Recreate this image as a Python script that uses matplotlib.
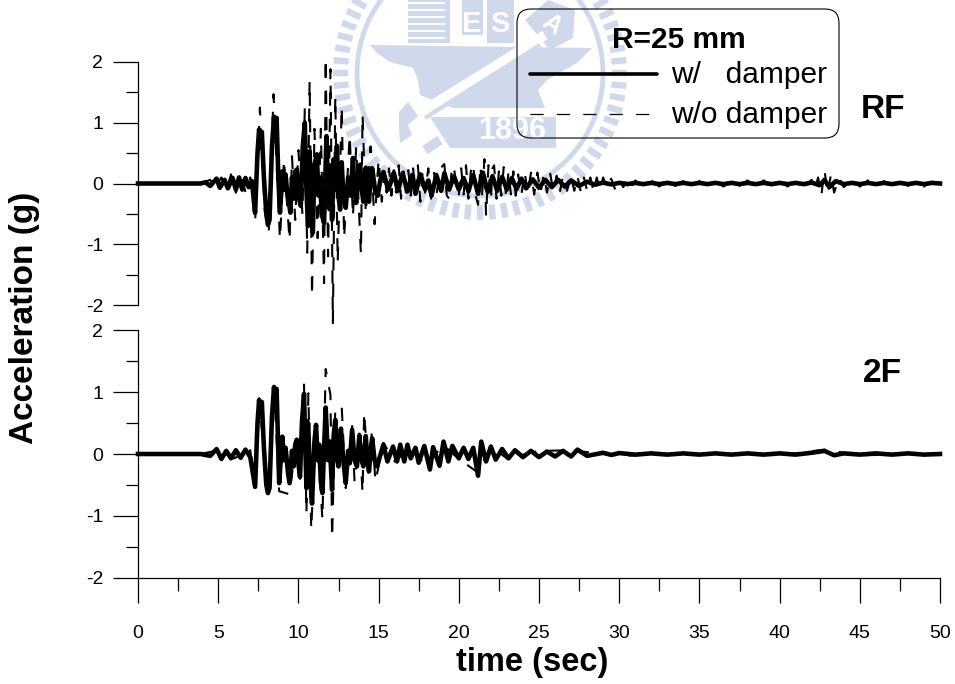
import numpy as np
import matplotlib
matplotlib.use("Agg")
import matplotlib.pyplot as plt
from matplotlib.patches import Polygon, Rectangle, Circle, FancyBboxPatch

# values: turning points of each record (sec, g)
rf_solid_t = [0, 3.9, 4.2, 4.5, 4.9, 5.1, 5.4, 5.6, 5.9, 6.1, 6.3, 6.5, 6.7, 6.9, 7.1, 7.3, 7.45, 7.55, 7.65, 7.72, 7.85, 8.0, 8.1, 8.2, 8.35, 8.48, 8.58, 8.64, 8.75, 8.85, 9.0,
              9.1, 9.2, 9.3, 9.4, 9.5, 9.6, 9.7, 9.8, 9.9, 10.0, 10.15, 10.27, 10.4, 10.5, 10.6, 10.7, 10.8, 10.9, 11.0, 11.15, 11.25, 11.35, 11.45, 11.6, 11.75, 11.85, 11.95,
              12.1, 12.2, 12.3, 12.4, 12.5, 12.6, 12.7, 12.8, 12.95, 13.1, 13.25, 13.4, 13.5, 13.6, 13.75, 13.85, 13.95, 14.05, 14.2, 14.3, 14.4, 14.5, 14.6, 14.8, 14.95, 15.1, 15.3,
              15.6, 15.8, 15.95, 16.2, 16.5, 16.8, 17.1, 17.3, 17.6, 17.9, 18.1, 18.3, 18.6, 18.9, 19.1, 19.4, 19.7, 20.0, 20.3, 20.6, 20.9, 21.2, 21.5, 21.8, 22.1, 22.4,
              22.7, 23.0, 23.3, 23.6, 23.9, 24.2, 24.6, 25.0, 25.4, 25.8, 26.2, 26.6, 27.0, 27.5, 28.0, 28.5, 29.0, 29.5, 30.0, 30.5, 31.0, 31.5, 32.0, 32.5, 33.0, 33.5, 34.0, 34.5, 35.0, 35.5, 36.0,
              36.5, 37.0, 37.5, 38.0, 38.5, 39.0, 39.5, 40.0, 40.5, 41.0, 41.5, 42.0, 42.5, 42.8, 43.1, 43.5, 44.0, 44.5, 45.0, 45.5, 46.0, 46.5, 47.0, 47.5, 48.0, 48.5, 49.0, 49.5, 50.0]
rf_solid_a = [0, 0, .02, -.04, .08, -.07, .06, -.08, .09, -.1, .1, -.1, .09, -.06, .04, -.48, .5, .89, .6, .85, .1, -.5, -.68, -.6, .6, 1.1, .7, 1.08, .1, -.48, .2,
              -.1, .15, -.15, -.3, -.48, .1, -.25, .2, .23, -.2, -.37, .6, 1.0, -.1, -.7, .53, -.4, -.81, .3, .48, -.2, .1, -.5, -.65, .78, -.2, .3,
              -.6, .4, -.1, .62, -.2, -.43, .35, -.2, -.4, .1, -.2, .42, -.1, -.32, .2, .31, -.1, -.3, .26, -.1, -.3, .1, .25, -.15, -.2, .05, .19,
              -.1, .05, .18, -.12, .17, -.13, .14, -.17, .15, -.1, .05, -.2, .14, -.12, .17, -.1, .12, -.1, .09, -.13, .14, -.17, .18, -.14, .12, -.12,
              .11, -.1, .09, -.09, .08, -.08, .07, -.07, .06, -.06, .06, -.05, .05, -.04, .03, -.02, .015, -.015, .01, -.01, .01, -.01, .01, -.01, .01, -.01, .01, -.01, .01, -.01, .01,
              -.01, .01, -.01, .01, -.01, .01, -.01, .01, -.01, .01, -.01, .015, -.03, .06, -.06, .04, -.01, .01, -.01, .01, -.01, .01, -.01, .01, -.01, .01, -.01, .01, 0]

rf_dash_t = [3.9, 4.5, 4.8, 5.2, 5.5, 5.8, 6.1, 6.4, 6.7, 7.0, 7.3, 7.6, 7.9, 8.15, 8.45, 8.85, 9.1, 9.45, 9.6, 9.8, 10.0, 10.25, 10.4, 10.55, 10.7, 10.85, 11.0, 11.2,
             11.4, 11.6, 11.7, 11.85, 12.0, 12.15, 12.3, 12.45, 12.7, 12.85, 13.2, 13.4, 13.6, 13.9, 14.0, 14.2, 14.5, 14.75, 15.0, 15.2,
             15.35, 15.5, 15.65, 15.8, 15.95, 16.1, 16.25, 16.4, 16.55, 16.7, 16.85, 17.0, 17.15, 17.3, 17.45, 17.6, 17.75, 17.9, 18.1, 18.3, 18.45, 18.6, 18.85, 19.1, 19.25, 19.4, 19.55, 19.7, 19.85, 20.0, 20.15, 20.3, 20.45, 20.6, 20.75, 20.9, 21.05, 21.2, 21.35, 21.45, 21.6, 21.7, 21.85, 22.0, 22.1, 22.2,
             22.35, 22.5, 22.65, 22.8, 22.95, 23.1, 23.25, 23.4, 23.55, 23.7, 23.9, 24.1, 24.3, 24.5, 24.7, 24.9, 25.1, 25.3, 25.5, 25.7, 25.9, 26.1, 26.3, 26.5, 26.75, 27.0, 27.2, 27.4, 27.6, 27.8, 28.0, 28.2, 28.4, 28.6, 28.8, 29.0, 29.25, 29.5, 29.75, 30.0, 30.25, 30.5, 30.75, 31.0, 31.5, 32.0, 32.5, 33.0,
             33.5, 34.0, 34.5, 35.0, 35.5, 36.0, 36.5, 37.0, 37.5, 38.0, 38.5, 39.0, 39.5, 40.0, 40.5, 41.0, 41.5, 42.0, 42.2, 42.4, 42.6, 42.8, 43.0, 43.2, 43.4, 43.7, 44.0, 44.5, 45.0, 45.5, 46.0, 46.5, 47.0, 47.5, 48.0, 48.5, 49.0, 49.5, 50.0]
rf_dash_a = [0, .06, -.08, .1, -.12, .15, -.15, .14, -.14, .1, -.65, 1.25, -.45, -.8, 1.47, -.92, .4, -.94, .45, -.6, .55, -.5, 1.25, -1.14, 1.69, -1.86, .9, -.9,
             .9, -1.64, 2.07, -1.2, 1.88, -2.3, 1.44, -1.3, 1.27, -.9, .8, -.55, .6, -1.17, 1.14, -.5, .61, -.67, .4, -.3,
             .2, -.15, .25, -.2, .22, -.15, .3, -.25, .2, -.15, .22, -.2, .25, -.15, .3, -.3, .2, -.15, .25, -.35, .2, -.2, .25, .32, -.2, -.25, .2, .3, -.15, -.2, .25, -.18, .3, -.25, .2, .33, -.2, -.35, .3, -.2, .4, -.54, .3, -.28, .25, .3,
             -.25, .2, -.2, .27, -.22, .2, -.18, .2, -.2, .15, -.2, .2, -.16, .18, -.18, .18, -.15, .15, -.15, .16, -.14, .13, -.14, .13, -.12, .12, -.12, .12, -.13, .1, -.12, .1, -.13, .1, -.12, .1, -.08, .08, -.1, .07, -.06, .06, -.07, .05, -.05, .05, -.05, .05,
             -.04, .04, -.05, .04, -.04, .04, -.05, .04, -.04, .05, -.04, .05, -.03, .04, -.05, .05, -.05, .06, -.1, .1, -.2, .22, -.18, .15, -.15, .1, -.06, .05, -.05, .05, -.05, .04, -.04, .05, -.04, .04, -.05, .03, 0]

f2_solid_t = [0, 3.9, 4.5, 4.9, 5.2, 5.5, 5.8, 6.1, 6.4, 6.7, 7.0, 7.3, 7.45, 7.55, 7.65, 7.72, 7.85, 8.0, 8.1, 8.2, 8.35, 8.48, 8.58, 8.64, 8.8,
              9.0, 9.1, 9.2, 9.35, 9.45, 9.6, 9.7, 9.8, 9.9, 10.0, 10.1, 10.22, 10.35, 10.5, 10.6, 10.72, 10.85, 11.0, 11.1, 11.2, 11.3, 11.4, 11.5, 11.6, 11.7, 11.85, 11.95,
              12.1, 12.2, 12.3, 12.4, 12.5, 12.65, 12.8, 12.95, 13.1, 13.2, 13.35, 13.5, 13.65, 13.8, 13.9, 14.05, 14.2, 14.3, 14.4, 14.5, 14.6, 14.75, 14.9,
              15.3, 15.55, 15.9, 16.15, 16.35, 16.6, 16.8, 17.0, 17.3, 17.5,
              17.85, 18.2, 18.4, 18.8, 19.05, 19.35, 19.6, 20.0, 20.3, 20.6, 20.9, 21.2, 21.4, 21.7, 22.0, 22.3, 22.7, 23.1, 23.5, 24.0, 24.5, 25.0, 25.5, 26.0,
              26.5, 27.0, 27.4, 28.0, 29.0, 29.5, 30.0, 31.0, 32.0, 33.0, 34.0, 35.0, 36.0, 37.0, 38.0, 39.0, 40.0, 41.0, 42.0, 42.8, 43.4, 44.0, 45.0, 46.0, 47.0, 48.0, 49.0, 50.0]
f2_solid_a = [0, 0, -.03, .08, -.08, .05, -.07, .06, -.06, .07, -.05, -.53, .5, .87, .6, .84, .1, -.5, -.63, -.55, .6, 1.08, .7, 1.05, -.47,
              .28, -.1, .1, -.3, -.47, .05, -.2, .15, .23, -.15, -.37, .5, .97, -.55, .5, -.3, -.8, .2, .47, -.1, .15, -.45, -.63, .1, .75, -.1, .2,
              -.58, .3, .55, -.05, -.2, .41, -.1, -.47, .05, -.15, .39, -.1, -.2, .3, -.05, -.2, .29, -.1, -.28, .05, .25, -.1, -.2,
              .15, -.12, .12, -.12, .15, -.12, .15, -.07, .1, -.14,
              .13, -.25, .11, -.19, .2, -.12, .13, -.07, .1, -.08, .1, -.35, .2, -.12, .12, -.09, .08, -.07, .06, -.05, .05, -.05, .04, -.04,
              .05, -.04, .07, -.03, .02, -.015, .015, -.01, .01, -.01, .01, -.01, .01, -.01, .01, -.01, .01, -.01, .02, .05, -.02, .01, -.01, .01, -.01, .01, -.01, 0]

f2_dash_t = [3.9, 5.0, 6.0, 7.0, 7.3, 7.55, 8.1, 8.48, 8.8, 9.45, 9.9, 10.1, 10.35, 10.5, 10.62, 10.8, 11.1, 11.5, 11.7, 12.0, 12.1, 12.3, 12.7, 12.95, 13.35, 13.5, 13.8, 14.0, 14.1, 14.35,
             14.6, 14.8, 15.3, 16.0, 17.0, 18.0, 19.0, 20.0, 21.2, 22.0, 23.0, 25.0, 27.0, 30.0, 35.0, 40.0, 42.8, 45.0, 50.0]
f2_dash_a = [0, .06, -.07, .06, -.6, .9, -.7, 1.1, -.6, -.65, .3, -.4, 1.12, -.96, .98, -1.22, .55, -1.06, 1.37, .95, -1.36, .75, .77, -.55, .45, -.45, .33, -.63, .68, -.3,
             .41, -.45, .18, -.12, .1, -.2, .15, -.08, -.3, .12, -.07, .05, .06, -.03, .02, -.02, .07, -.02, 0]

x_ticks = [0, 5, 10, 15, 20, 25, 30, 35, 40, 45, 50]
y_ticks = [-2, -1, 0, 1, 2]

W, H = 955, 684
LOGO = "#cfd9eb"
plt.rcParams["font.family"] = "Liberation Sans"
plt.rcParams["lines.scale_dashes"] = False

fig = plt.figure(figsize=(W / 100, H / 100), dpi=100)


def px_axes(left, top, right, bottom):
    return fig.add_axes([left / W, 1 - bottom / H, (right - left) / W, (bottom - top) / H])


# overlay in pixel units for the watermark
bg = px_axes(0, 0, W, H)
bg.set_xlim(0, W)
bg.set_ylim(H, 0)
bg.axis("off")

cx, cy = 480, 73
for ang in np.arange(0, 360, 5.0):
    r = np.radians(ang)
    bg.plot([cx + 132 * np.cos(r), cx + 147 * np.cos(r)], [cy + 132 * np.sin(r), cy + 147 * np.sin(r)],
            color=LOGO, lw=4.6, solid_capstyle="butt", zorder=1)
bg.add_patch(Circle((cx, cy), 123, fill=False, ec=LOGO, lw=3.5, zorder=1))
anvil = [(370, 45), (592, 48), (577, 63), (547, 80), (538, 90), (545, 108), (453, 108), (420, 95), (418, 80), (413, 68), (390, 62), (377, 53)]
base = [(430, 117), (556, 117), (556, 148), (450, 148)]
head = [(399, 112), (408, 102), (418, 116), (408, 125), (412, 135), (400, 143), (399, 128)]
tile_a = [(525, 20), (548, 0), (575, 10), (573, 38), (550, 50)]
for pts in (anvil, base, head, tile_a):
    bg.add_patch(Polygon(pts, closed=True, fc=LOGO, ec="none", zorder=1))
bg.plot([418, 545], [114, 35], color="white", lw=7, solid_capstyle="butt", zorder=1.1)
bg.plot([425, 540], [118, 45], color=LOGO, lw=3, solid_capstyle="butt", zorder=1.2)
bg.plot([425, 440], [150, 140], color=LOGO, lw=7, solid_capstyle="butt", zorder=1)
bg.add_patch(Rectangle((408, 0), 42, 43, fc=LOGO, ec="none", zorder=1))
for yy in (3, 10, 17, 24, 31, 38):
    bg.plot([408, 444], [yy, yy], color="white", lw=1.5, zorder=1.1)
bg.add_patch(Rectangle((462, 0), 21, 35, fc=LOGO, ec="none", zorder=1))
bg.add_patch(Rectangle((487, 0), 27, 43, fc=LOGO, ec="none", zorder=1))
bg.text(472, 24, "E", color="white", fontsize=21, fontweight="bold", ha="center", va="center", zorder=1.2)
bg.text(500, 24, "S", color="white", fontsize=21, fontweight="bold", ha="center", va="center", zorder=1.2)
bg.text(552, 24, "A", color="white", fontsize=18, fontweight="bold", rotation=-35, ha="center", va="center", zorder=1.2)
bg.text(512, 131, "1896", color="white", fontsize=22, fontweight="bold", ha="center", va="center", zorder=1.2)

top_ax = px_axes(138, 62, 940, 305)
bot_ax = px_axes(138, 330, 940, 578)

for ax, t1, a1, t2, a2 in ((top_ax, rf_dash_t, rf_dash_a, rf_solid_t, rf_solid_a),
                           (bot_ax, f2_dash_t, f2_dash_a, f2_solid_t, f2_solid_a)):
    ax.patch.set_alpha(0)
    ax.plot(t1, a1, color="black", lw=1.5, linestyle=(0, (9.5, 9.5)), clip_on=False, zorder=3)
    ax.plot(t2, a2, color="black", lw=3.3, solid_joinstyle="round", clip_on=False, zorder=4)
    ax.set_xlim(0, 50)
    ax.set_ylim(-2, 2)
    ax.set_yticks(y_ticks)
    ax.set_yticks(np.arange(-1.5, 2, 1), minor=True)
    ax.set_yticklabels([str(v) for v in y_ticks], fontsize=14)
    ax.tick_params(axis="y", which="major", length=18, width=0.9, pad=7)
    ax.tick_params(axis="y", which="minor", length=9, width=0.9)
    ax.spines["top"].set_visible(False)
    ax.spines["right"].set_visible(False)
    ax.spines["left"].set_linewidth(0.9)
    ax.spines["bottom"].set_linewidth(0.9)

top_ax.spines["bottom"].set_visible(False)
top_ax.set_xticks([])

bot_ax.set_xticks(x_ticks)
bot_ax.set_xticks(np.arange(2.5, 50, 5), minor=True)
bot_ax.set_xticklabels([str(v) for v in x_ticks], fontsize=14)
bot_ax.tick_params(axis="x", which="major", length=18, width=0.9, pad=16)
bot_ax.tick_params(axis="x", which="minor", length=9, width=0.9)

# legend box and labels, drawn by hand like the original
fg = px_axes(0, 0, W, H)
fg.set_xlim(0, W)
fg.set_ylim(H, 0)
fg.axis("off")
fg.patch.set_alpha(0)
fg.add_patch(FancyBboxPatch((517, 9), 322, 129, boxstyle="round,pad=0,rounding_size=14", fc="none", ec="black", lw=0.8, zorder=5))
fg.plot([530, 657], [74, 74], color="black", lw=2.6, solid_capstyle="round", zorder=6)
fg.plot([530, 652], [114, 114], color="black", lw=0.9, linestyle=(0, (9.5, 9.5)), zorder=6)
fg.text(612, 40, "R=25 mm", fontsize=21.5, fontweight="bold", va="center", zorder=6)
fg.text(671, 75, "w/   damper", fontsize=21.5, va="center", zorder=6)
fg.text(671, 115, "w/o damper", fontsize=21.5, va="center", zorder=6)
fg.text(883, 109, "RF", fontsize=24, fontweight="bold", ha="center", va="center", zorder=6)
fg.text(882, 373, "2F", fontsize=24, fontweight="bold", ha="center", va="center", zorder=6)
fg.text(532, 662, "time (sec)", fontsize=23.5, fontweight="bold", ha="center", va="center", zorder=6)
fg.text(24, 318, "Acceleration (g)", fontsize=24, fontweight="bold", rotation=90, ha="center", va="center", zorder=6)

fig.savefig("out.png", dpi=100)
